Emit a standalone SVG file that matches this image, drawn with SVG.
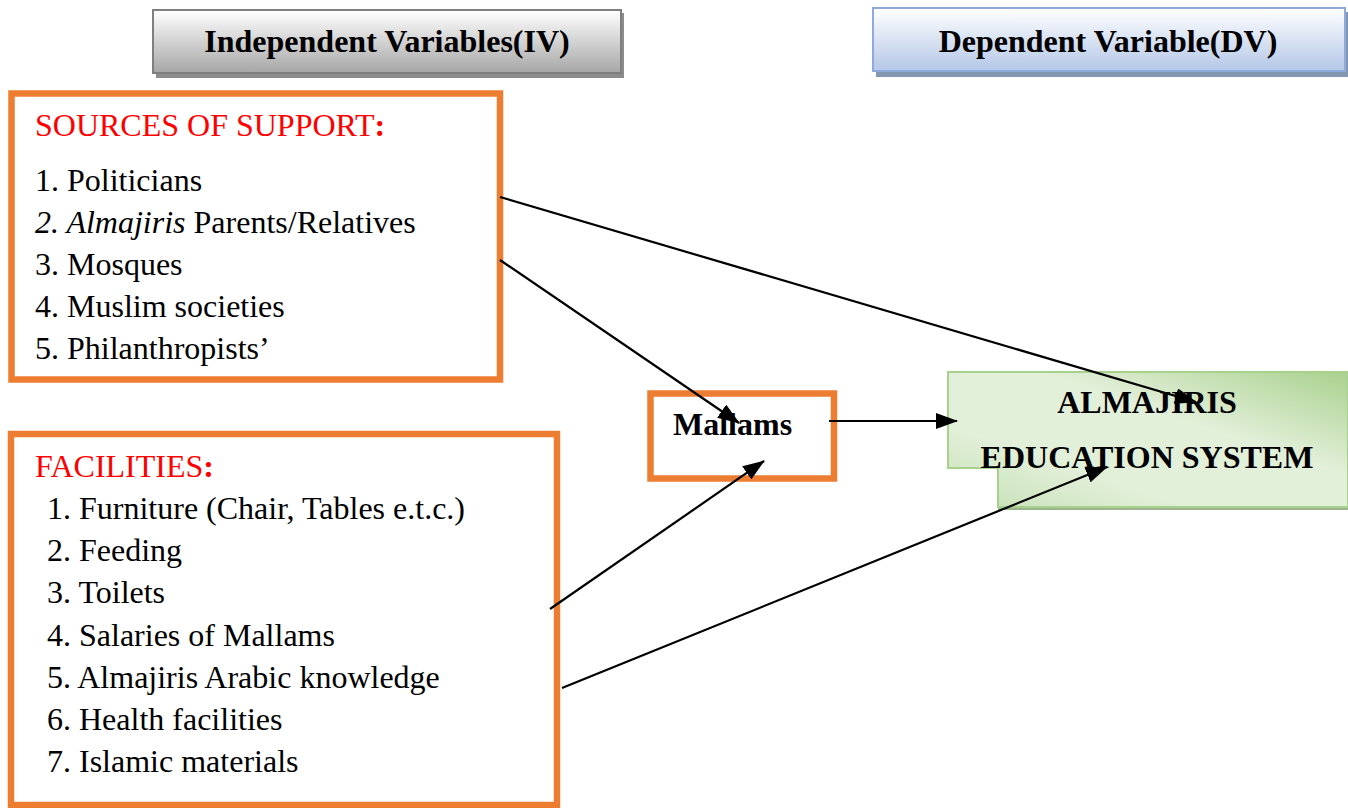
<svg xmlns="http://www.w3.org/2000/svg" width="1348" height="808" viewBox="0 0 1348 808">
<style>
.t{font-family:"Liberation Serif","Times New Roman",serif;fill:#000}
.h{font-size:32px;font-weight:bold}
.it{font-size:32px}
.red{fill:#ff0000;font-size:32px}
.ob{fill:#fff;stroke:#ed7d31;stroke-width:6.5}
.cn{stroke:#000;stroke-width:2.2;fill:none;marker-end:url(#ah)}
</style>
<defs>
<linearGradient id="gIV" x1="0" y1="0" x2="0" y2="1">
<stop offset="0" stop-color="#ffffff"/><stop offset="1" stop-color="#a6a6a6"/>
</linearGradient>
<linearGradient id="gDV" x1="0" y1="0" x2="0" y2="1">
<stop offset="0" stop-color="#ffffff"/><stop offset="1" stop-color="#b4c7e7"/>
</linearGradient>
<linearGradient id="gR" x1="0" y1="1" x2="1" y2="0">
<stop offset="0" stop-color="#c5e0b4"/><stop offset="0.3" stop-color="#e2efd9"/><stop offset="0.62" stop-color="#e2efd9"/><stop offset="1" stop-color="#a9d18e"/>
</linearGradient>
<marker id="ah" viewBox="0 0 22 16" refX="21" refY="8" markerWidth="22" markerHeight="16" markerUnits="userSpaceOnUse" orient="auto">
<path d="M0,0 L22,8 L0,16 Z" fill="#000"/>
</marker>
</defs>

<g id="iv-header">
<rect x="156" y="13" width="468" height="65" fill="#8c8c8c"/>
<rect x="153" y="10" width="468" height="63" fill="url(#gIV)" stroke="#7f7f7f" stroke-width="2"/>
<text class="t h" x="387" y="52" text-anchor="middle">Independent Variables(IV)</text>
</g>

<g id="dv-header">
<rect x="876" y="12" width="472" height="65" fill="#8497b0"/>
<rect x="873" y="8" width="472" height="63" fill="url(#gDV)" stroke="#8eaadb" stroke-width="2"/>
<text class="t h" x="1108" y="52" text-anchor="middle">Dependent Variable(DV)</text>
</g>

<g id="sources">
<rect class="ob" x="11.5" y="93.5" width="488.5" height="286"/>
<text class="t red" x="35" y="136">SOURCES OF SUPPORT<tspan font-weight="bold">:</tspan></text>
<text class="t it" x="35" y="191">1. Politicians</text>
<text class="t it" x="35" y="233"><tspan font-style="italic">2. Almajiris</tspan> Parents/Relatives</text>
<text class="t it" x="35" y="275">3. Mosques</text>
<text class="t it" x="35" y="317">4. Muslim societies</text>
<text class="t it" x="35" y="359">5. Philanthropists’</text>
</g>

<g id="facilities">
<rect class="ob" x="11" y="434" width="546" height="371"/>
<text class="t red" x="35" y="477">FACILITIES<tspan font-weight="bold">:</tspan></text>
<text class="t it" x="47" y="519">1. Furniture (Chair, Tables e.t.c.)</text>
<text class="t it" x="47" y="561">2. Feeding</text>
<text class="t it" x="47" y="603">3. Toilets</text>
<text class="t it" x="47" y="646">4. Salaries of Mallams</text>
<text class="t it" x="47" y="688">5. Almajiris Arabic knowledge</text>
<text class="t it" x="47" y="730">6. Health facilities</text>
<text class="t it" x="47" y="772">7. Islamic materials</text>
</g>

<g id="mallams">
<rect class="ob" x="650.5" y="393.5" width="183.5" height="85"/>
<text class="t h" x="673" y="435">Mallams</text>
</g>

<g id="result">
<rect x="998" y="470" width="352" height="40" fill="#9cb58f"/>
<path d="M948,372 H1348 V507 H998 V468 H948 Z" fill="url(#gR)" stroke="#a9d18e" stroke-width="2"/>
<text class="t h" x="1147" y="413" text-anchor="middle" font-size="31">ALMAJIRIS</text>
<text class="t h" x="1147" y="468" text-anchor="middle" font-size="31">EDUCATION SYSTEM</text>
</g>

<g id="connectors">
<line class="cn" x1="500" y1="197" x2="1196" y2="402"/>
<line class="cn" x1="500" y1="260" x2="739" y2="423"/>
<line class="cn" x1="550" y1="609" x2="764" y2="461"/>
<line class="cn" x1="562" y1="688" x2="1107" y2="467"/>
<line class="cn" x1="829" y1="421" x2="957" y2="421"/>
</g>
</svg>
